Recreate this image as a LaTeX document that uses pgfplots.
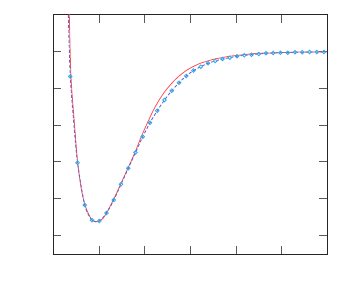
\documentclass[border=0pt]{standalone}
\usepackage{pgfplots}
\pgfplotsset{compat=1.18}
\definecolor{redline}{RGB}{255,80,85}
\definecolor{dashline}{RGB}{105,100,200}
\definecolor{markc}{RGB}{45,170,240}
\begin{document}
\begin{tikzpicture}
\path[use as bounding box] (-53.3pt,-46pt) rectangle (295.7pt,254pt);
\begin{axis}[
  at={(0pt,0pt)}, anchor=south west,
  scale only axis, width=274pt, height=239.3pt,
  xmin=0, xmax=6, ymin=-5.512, ymax=1.008,
  xtick={0,1,2,3,4,5,6}, ytick={-5,-4,-3,-2,-1,0},
  xticklabels={}, yticklabels={},
  xtick pos=both, ytick pos=both,
  tick align=inside, major tick length=8pt,
  major tick style={gray!70!black, line width=0.7pt},
  axis line style={black!85, line width=0.7pt},
  clip=true,
]
% red solid curve
\addplot[redline, line width=0.8pt, smooth, tension=0.5] coordinates {
(0.339,1.272) (0.350,1.008) (0.387,-0.676) (0.464,-1.970) (0.534,-3.025)
(0.617,-3.768) (0.694,-4.177) (0.782,-4.450) (0.858,-4.599) (0.935,-4.632)
(1.016,-4.613) (1.088,-4.540) (1.169,-4.387) (1.241,-4.218) (1.330,-4.000)
(1.489,-3.572) (1.651,-3.128) (1.804,-2.700) (1.926,-2.316) (2.062,-1.935)
(2.187,-1.608) (2.318,-1.316) (2.456,-1.063) (2.605,-0.845) (2.756,-0.662)
(2.905,-0.518) (3.058,-0.409) (3.218,-0.316) (3.380,-0.253) (3.533,-0.199)
(3.693,-0.163) (3.853,-0.125) (4.168,-0.082) (4.481,-0.044) (4.963,-0.027)
(5.429,-0.008) (5.998,-0.008)
};
% dashed curve
\addplot[dashline, line width=0.9pt, dash pattern=on 3pt off 2pt, smooth, tension=0.5] coordinates {
(0.317,1.272) (0.328,1.008) (0.372,-0.676) (0.449,-1.943) (0.531,-3.025)
(0.689,-4.177) (0.848,-4.594) (1.007,-4.613) (1.166,-4.395) (1.324,-4.041)
(1.483,-3.613) (1.642,-3.177) (1.800,-2.747) (1.959,-2.316) (2.118,-1.935)
(2.276,-1.608) (2.435,-1.316) (2.594,-1.063) (2.753,-0.845) (2.911,-0.662)
(3.070,-0.512) (3.229,-0.409) (3.387,-0.316) (3.546,-0.253) (3.705,-0.199)
(3.863,-0.163) (4.022,-0.125) (4.181,-0.098) (4.340,-0.082) (4.498,-0.063)
(4.657,-0.044) (4.816,-0.035) (4.974,-0.027) (5.133,-0.027) (5.292,-0.016)
(5.450,-0.016) (5.609,-0.008) (5.768,-0.008) (5.927,-0.008)
};
% markers
\addplot[only marks, mark=o, mark size=1.8pt, mark options={markc, line width=0.8pt}] coordinates {
(0.372,-0.676) (0.531,-3.025) (0.689,-4.177) (0.848,-4.594) (1.007,-4.613)
(1.166,-4.395) (1.324,-4.041) (1.483,-3.613) (1.642,-3.177) (1.800,-2.747)
(1.959,-2.316) (2.118,-1.935) (2.276,-1.608) (2.435,-1.316) (2.594,-1.063)
(2.753,-0.845) (2.911,-0.662) (3.070,-0.512) (3.229,-0.409) (3.387,-0.316)
(3.546,-0.253) (3.705,-0.199) (3.863,-0.163) (4.022,-0.125) (4.181,-0.098)
(4.340,-0.082) (4.498,-0.063) (4.657,-0.044) (4.816,-0.035) (4.974,-0.027)
(5.133,-0.027) (5.292,-0.016) (5.450,-0.016) (5.609,-0.008) (5.768,-0.008)
(5.927,-0.008)
};
\end{axis}
\end{tikzpicture}
\end{document}
